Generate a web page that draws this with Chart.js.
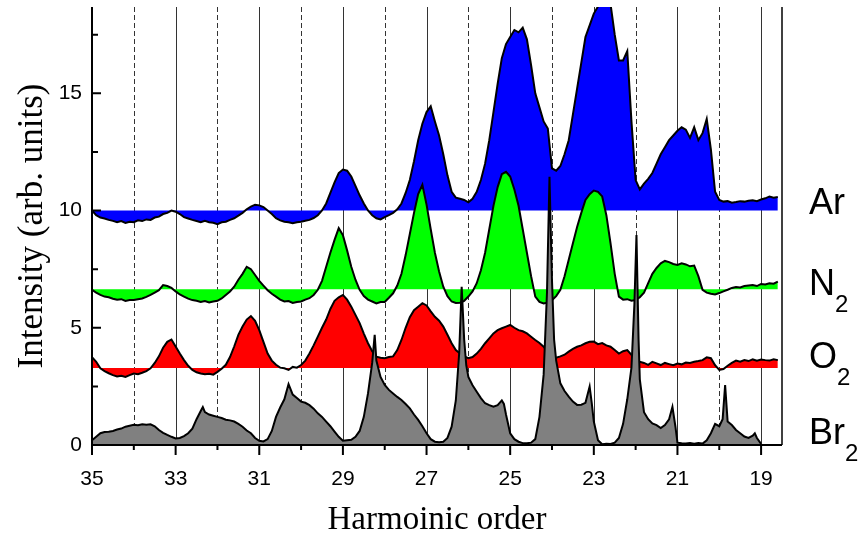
<!DOCTYPE html>
<html>
<head>
<meta charset="utf-8">
<script src="https://cdn.jsdelivr.net/npm/chart.js@4/dist/chart.umd.min.js"></script>
<style>
  html, body { margin: 0; padding: 0; background: #fff; }
</style>
</head>
<body>
<canvas id="mycanvas" width="859" height="545"></canvas>
<script>
// harmonic order grid used by Ar, N2 and O2 (read every 0.1 order)
var orders = [
  35.0,34.9,34.8,34.7,34.6,34.5,34.4,34.3,34.2,34.1,
  34.0,33.9,33.8,33.7,33.6,33.5,33.4,33.3,33.2,33.1,
  33.0,32.9,32.8,32.7,32.6,32.5,32.4,32.3,32.2,32.1,
  32.0,31.9,31.8,31.7,31.6,31.5,31.4,31.3,31.2,31.1,
  31.0,30.9,30.8,30.7,30.6,30.5,30.4,30.3,30.2,30.1,
  30.0,29.9,29.8,29.7,29.6,29.5,29.4,29.3,29.2,29.1,
  29.0,28.9,28.8,28.7,28.6,28.5,28.4,28.3,28.2,28.1,
  28.0,27.9,27.8,27.7,27.6,27.5,27.4,27.3,27.2,27.1,
  27.0,26.9,26.8,26.7,26.6,26.5,26.4,26.3,26.2,26.1,
  26.0,25.9,25.8,25.7,25.6,25.5,25.4,25.3,25.2,25.1,
  25.0,24.9,24.8,24.7,24.6,24.5,24.4,24.3,24.2,24.1,
  24.0,23.9,23.8,23.7,23.6,23.5,23.4,23.3,23.2,23.1,
  23.0,22.9,22.8,22.7,22.6,22.5,22.4,22.3,22.2,22.1,
  22.0,21.9,21.8,21.7,21.6,21.5,21.4,21.3,21.2,21.1,
  21.0,20.9,20.8,20.7,20.6,20.5,20.4,20.3,20.2,20.1,
  20.0,19.9,19.8,19.7,19.6,19.5,19.4,19.3,19.2,19.1,
  19.0,18.9,18.8,18.7,18.6
];

var arValues = [
  10.0,9.8,9.7,9.66,9.6,9.56,9.5,9.55,9.47,9.52,
  9.5,9.58,9.55,9.62,9.6,9.7,9.74,9.85,9.9,10.0,
  9.95,9.85,9.72,9.66,9.6,9.55,9.5,9.56,9.5,9.48,
  9.42,9.5,9.52,9.6,9.67,9.78,9.9,10.05,10.17,10.25,
  10.22,10.15,10.0,9.85,9.67,9.58,9.52,9.5,9.46,9.5,
  9.52,9.56,9.6,9.68,9.8,10.0,10.3,10.75,11.2,11.6,
  11.75,11.7,11.45,11.05,10.65,10.3,10.0,9.8,9.67,9.62,
  9.72,9.8,9.9,10.05,10.3,10.75,11.3,12.1,13.0,13.7,
  14.2,14.45,13.8,13.2,12.4,11.5,10.8,10.55,10.5,10.45,
  10.35,10.5,10.8,11.3,12.0,13.0,14.2,15.4,16.5,17.1,
  17.4,17.7,17.6,17.8,17.3,16.2,15.0,14.4,13.8,13.5,
  11.8,11.7,11.9,12.4,13.0,14.1,15.2,16.3,17.4,17.9,
  18.4,18.7,18.9,18.9,18.8,17.5,16.4,16.4,16.8,13.8,
  11.3,10.9,11.15,11.35,11.6,12.0,12.4,12.7,13.0,13.2,
  13.4,13.55,13.45,13.1,13.55,13.0,13.3,13.9,12.6,10.8,
  10.45,10.38,10.4,10.33,10.36,10.4,10.38,10.42,10.44,10.4,
  10.47,10.52,10.6,10.55,10.58
];

var n2Values = [
  6.62,6.5,6.4,6.33,6.3,6.24,6.2,6.22,6.14,6.18,
  6.18,6.22,6.25,6.32,6.4,6.5,6.6,6.82,6.78,6.7,
  6.55,6.42,6.33,6.24,6.18,6.15,6.1,6.14,6.08,6.12,
  6.15,6.25,6.4,6.55,6.75,7.05,7.3,7.6,7.5,7.25,
  7.0,6.8,6.6,6.45,6.33,6.2,6.12,6.14,6.06,6.1,
  6.12,6.2,6.26,6.4,6.62,7.0,7.6,8.2,8.75,9.25,
  8.95,8.3,7.6,7.05,6.62,6.35,6.2,6.12,6.04,6.1,
  6.1,6.28,6.47,6.8,7.3,8.1,9.0,9.9,10.7,11.1,
  10.25,9.2,8.2,7.4,6.75,6.35,6.12,6.06,6.07,6.15,
  6.33,6.55,6.9,7.45,8.2,9.2,10.2,11.0,11.55,11.65,
  11.45,10.9,10.2,9.2,8.2,7.2,6.33,6.1,6.04,6.08,
  6.18,6.35,6.62,7.2,7.9,8.6,9.3,9.9,10.45,10.7,
  10.85,10.8,10.6,9.8,8.6,7.3,6.33,6.2,6.22,6.15,
  6.18,6.3,6.5,6.9,7.3,7.55,7.75,7.85,7.8,7.72,
  7.68,7.75,7.7,7.62,7.65,7.2,6.62,6.5,6.45,6.42,
  6.48,6.55,6.62,6.7,6.74,6.72,6.78,6.8,6.82,6.78,
  6.87,6.85,6.9,6.88,6.97
];

var o2Values = [
  3.75,3.55,3.27,3.15,3.06,2.98,2.92,2.95,2.9,2.98,
  3.05,3.02,3.08,3.15,3.27,3.5,3.78,4.15,4.4,4.5,
  4.2,3.9,3.62,3.38,3.2,3.1,3.05,3.02,3.04,3.0,
  3.12,3.25,3.42,3.75,4.2,4.7,5.05,5.35,5.5,5.3,
  4.9,4.4,3.9,3.6,3.42,3.3,3.27,3.2,3.33,3.3,
  3.41,3.6,3.9,4.25,4.62,5.0,5.35,5.8,6.15,6.3,
  6.4,6.2,5.9,5.55,5.2,4.75,4.34,4.0,3.77,3.72,
  3.7,3.75,3.78,4.05,4.48,5.0,5.45,5.75,5.9,6.05,
  5.95,5.7,5.47,5.3,5.05,4.7,4.34,4.05,3.9,3.78,
  3.7,3.75,3.9,4.1,4.34,4.55,4.76,4.9,4.98,5.05,
  5.12,5.0,4.9,4.85,4.76,4.62,4.48,4.35,4.19,3.95,
  3.77,3.72,3.78,3.85,3.98,4.1,4.19,4.25,4.34,4.4,
  4.41,4.3,4.35,4.25,4.19,4.05,3.9,4.0,4.05,3.85,
  3.48,3.55,3.5,3.42,3.55,3.48,3.41,3.5,3.45,3.4,
  3.47,3.44,3.52,3.5,3.55,3.58,3.62,3.74,3.7,3.4,
  3.2,3.24,3.38,3.5,3.6,3.55,3.62,3.58,3.65,3.6,
  3.65,3.62,3.6,3.66,3.62
];

// Br2 has sharp lines, so it gets its own (denser) order list
var brOrders = [
  35.0,34.9,34.8,34.7,34.6,34.5,34.4,34.3,34.2,34.1,
  34.0,33.9,33.8,33.7,33.6,33.5,33.4,33.3,33.2,33.1,
  33.0,32.9,32.8,32.7,32.6,32.5,32.4,32.35,32.3,32.2,32.1,
  32.0,31.9,31.8,31.7,31.6,31.5,31.4,31.3,31.2,31.1,
  31.0,30.9,30.8,30.7,30.6,30.5,30.4,30.3,30.2,30.1,
  30.0,29.9,29.8,29.7,29.6,29.5,29.4,29.3,29.2,29.1,
  29.0,28.9,28.8,28.7,28.6,28.5,28.4,28.3,28.24,28.2,28.1,
  28.0,27.9,27.8,27.7,27.6,27.5,27.4,27.3,27.2,27.1,
  27.0,26.9,26.8,26.7,26.6,26.5,26.4,26.3,26.22,26.16,26.1,26.05,
  26.0,25.9,25.8,25.7,25.6,25.5,25.4,25.3,25.2,25.15,25.1,
  25.0,24.9,24.8,24.7,24.6,24.5,24.4,24.3,24.2,24.12,24.06,
  24.0,23.95,23.9,23.8,23.7,23.6,23.5,23.4,23.3,23.2,23.1,23.05,
  23.0,22.9,22.8,22.7,22.6,22.5,22.4,22.3,22.2,22.1,22.03,21.98,21.93,
  21.9,21.8,21.7,21.6,21.5,21.4,21.3,21.2,21.12,21.05,
  21.0,20.9,20.8,20.7,20.6,20.5,20.4,20.3,20.2,20.1,
  20.0,19.92,19.86,19.8,19.7,19.6,19.5,19.4,19.3,19.2,19.15,19.1,
  19.0
];
var brValues = [
  0.2,0.35,0.5,0.55,0.57,0.6,0.66,0.7,0.78,0.82,
  0.86,0.84,0.88,0.86,0.88,0.8,0.64,0.52,0.43,0.35,
  0.28,0.3,0.38,0.5,0.7,1.1,1.45,1.62,1.4,1.3,1.25,
  1.2,1.15,1.08,1.05,1.0,0.9,0.78,0.62,0.5,0.3,
  0.18,0.15,0.25,0.6,1.2,1.6,1.95,2.6,2.15,2.0,
  1.85,1.8,1.7,1.55,1.35,1.2,1.0,0.8,0.57,0.35,
  0.18,0.2,0.22,0.35,0.6,1.2,2.2,3.5,4.7,3.6,2.9,
  2.56,2.35,2.2,2.05,1.92,1.75,1.56,1.3,1.07,0.8,
  0.5,0.25,0.14,0.12,0.14,0.3,0.78,1.9,3.9,6.75,4.5,3.4,
  2.9,2.55,2.27,2.0,1.78,1.7,1.63,1.7,1.9,1.75,1.3,
  0.5,0.25,0.14,0.08,0.07,0.1,0.25,1.2,3.0,6.5,11.44,
  7.0,4.5,3.6,2.63,2.3,2.06,1.85,1.71,1.72,1.8,2.49,1.8,
  1.0,0.2,0.03,0.05,0.04,0.1,0.3,0.9,1.95,3.3,6.0,8.96,4.5,
  2.8,1.4,1.1,0.92,0.85,0.72,0.85,1.1,1.63,0.8,
  0.1,0.07,0.06,0.08,0.05,0.08,0.06,0.2,0.5,0.9,
  0.8,1.1,2.56,1.0,0.85,0.64,0.5,0.36,0.3,0.4,0.5,0.3,
  0.05
];

// offsets (baselines) of the stacked traces and their labels
var gasNames = ['Ar', 'N', 'O', 'Br'];
var gasSubs = ['', '2', '2', '2'];
var gasBaselines = [10, 6.64, 3.28, 0];
var gasColors = ['#0000ff', '#00ff00', '#ff0000', '#808080'];

var xMajorTicks = [35, 33, 31, 29, 27, 25, 23, 21, 19];
var xMinorTicks = [34, 32, 30, 28, 26, 24, 22, 20];
var yMajorTicks = [0, 5, 10, 15];
var yMinorTicks = [2.5, 7.5, 12.5, 17.5];

function toPoints(xs, ys) {
  var pts = [];
  for (var i = 0; i < xs.length; i++) pts.push({x: xs[i], y: ys[i]});
  return pts;
}

var seriesPoints = [
  toPoints(orders, arValues),
  toPoints(orders, n2Values),
  toPoints(orders, o2Values),
  toPoints(brOrders, brValues)
];

var datasets = [];
for (var i = 0; i < gasNames.length; i++) {
  datasets.push({
    label: gasNames[i] + gasSubs[i],
    data: seriesPoints[i],
    borderColor: '#000',
    borderWidth: 2,
    backgroundColor: gasColors[i],
    fill: {value: gasBaselines[i]},
    pointRadius: 0,
    tension: 0,
    order: gasNames.length - i
  });
}

var axesPlugin = {
  id: 'axesPlugin',
  beforeDatasetsDraw: function(chart) {
    var ctx = chart.ctx, a = chart.chartArea, x = chart.scales.x;
    ctx.save();
    ctx.lineWidth = 1;
    ctx.strokeStyle = '#333';
    xMajorTicks.concat(xMinorTicks).forEach(function(h) {
      if (h === 35) return;
      var px = Math.round(x.getPixelForValue(h)) + 0.5;
      ctx.setLineDash(h % 2 === 1 ? [] : [5, 3]);
      ctx.beginPath();
      ctx.moveTo(px, a.top);
      ctx.lineTo(px, a.bottom);
      ctx.stroke();
    });
    ctx.restore();
  },
  afterDatasetsDraw: function(chart) {
    var ctx = chart.ctx, a = chart.chartArea, x = chart.scales.x, y = chart.scales.y;
    ctx.save();
    ctx.strokeStyle = '#000';
    ctx.lineWidth = 2;
    ctx.beginPath();
    ctx.moveTo(a.left, a.top);
    ctx.lineTo(a.left, a.bottom);
    ctx.lineTo(a.right, a.bottom);
    ctx.stroke();
    ctx.lineWidth = 1.5;
    ctx.beginPath();
    ctx.moveTo(a.right, a.top);
    ctx.lineTo(a.right, a.bottom);
    ctx.stroke();
    // tick marks
    ctx.lineWidth = 2;
    ctx.beginPath();
    yMajorTicks.forEach(function(v) {
      var py = y.getPixelForValue(v);
      ctx.moveTo(a.left, py); ctx.lineTo(a.left + 9, py);
    });
    yMinorTicks.forEach(function(v) {
      var py = y.getPixelForValue(v);
      ctx.moveTo(a.left, py); ctx.lineTo(a.left + 6, py);
    });
    xMajorTicks.forEach(function(h) {
      var px = x.getPixelForValue(h);
      ctx.moveTo(px, a.bottom); ctx.lineTo(px, a.bottom + 10);
    });
    xMinorTicks.forEach(function(h) {
      var px = x.getPixelForValue(h);
      ctx.moveTo(px, a.bottom); ctx.lineTo(px, a.bottom + 5);
    });
    ctx.stroke();
    ctx.restore();
  },
  afterDraw: function(chart) {
    var ctx = chart.ctx, a = chart.chartArea, y = chart.scales.y;
    var labelOffsets = [3, 6, 0, -1];
    ctx.save();
    ctx.fillStyle = '#000';
    ctx.textBaseline = 'alphabetic';
    for (var i = 0; i < gasNames.length; i++) {
      var base = y.getPixelForValue(gasBaselines[i]) + labelOffsets[i];
      var lx = a.right + 27;
      ctx.font = '36px "Liberation Sans", Arial, sans-serif';
      ctx.fillText(gasNames[i], lx, base);
      if (gasSubs[i]) {
        var w = ctx.measureText(gasNames[i]).width;
        ctx.font = '24px "Liberation Sans", Arial, sans-serif';
        ctx.fillText(gasSubs[i], lx + w, base + 17);
      }
    }
    ctx.restore();
  }
};

var ctx = document.getElementById('mycanvas');

var chart = new Chart(ctx, {
  type: 'line',
  data: { datasets: datasets },
  options: {
    responsive: false,
    animation: false,
    layout: { padding: { top: 7, right: 77, left: 0, bottom: 0 } },
    plugins: {
      legend: { display: false },
      tooltip: { enabled: false }
    },
    scales: {
      x: {
        type: 'linear',
        reverse: true,
        min: 18.5,
        max: 35,
        grid: { display: false, drawTicks: false },
        border: { display: false },
        afterBuildTicks: function(s) {
          s.ticks = xMajorTicks.map(function(v) { return {value: v}; });
        },
        ticks: {
          autoSkip: false,
          maxRotation: 0,
          padding: 22,
          color: '#000',
          font: { family: '"Liberation Sans", Arial, sans-serif', size: 21 },
          callback: function(v) { return String(v); }
        },
        title: {
          display: true,
          text: 'Harmoinic order',
          color: '#000',
          font: { family: '"Liberation Serif", "Times New Roman", serif', size: 33 },
          padding: { top: 0, bottom: 5 }
        },
        afterFit: function(s) { s.height = 100; s.paddingLeft = 0; s.paddingRight = 0; }
      },
      y: {
        min: 0,
        max: 18.68,
        grid: { display: false, drawTicks: false },
        border: { display: false },
        afterBuildTicks: function(s) {
          s.ticks = yMajorTicks.map(function(v) { return {value: v}; });
        },
        ticks: {
          padding: 10,
          color: '#000',
          font: { family: '"Liberation Sans", Arial, sans-serif', size: 21 },
          callback: function(v) { return String(v); }
        },
        title: {
          display: true,
          text: 'Intensity (arb. units)',
          color: '#000',
          font: { family: '"Liberation Serif", "Times New Roman", serif', size: 35 },
          padding: { top: 12, bottom: 0 }
        },
        afterFit: function(s) { s.width = 92; s.paddingTop = 0; s.paddingBottom = 0; }
      }
    }
  },
  plugins: [axesPlugin]
});
</script>
</body>
</html>
